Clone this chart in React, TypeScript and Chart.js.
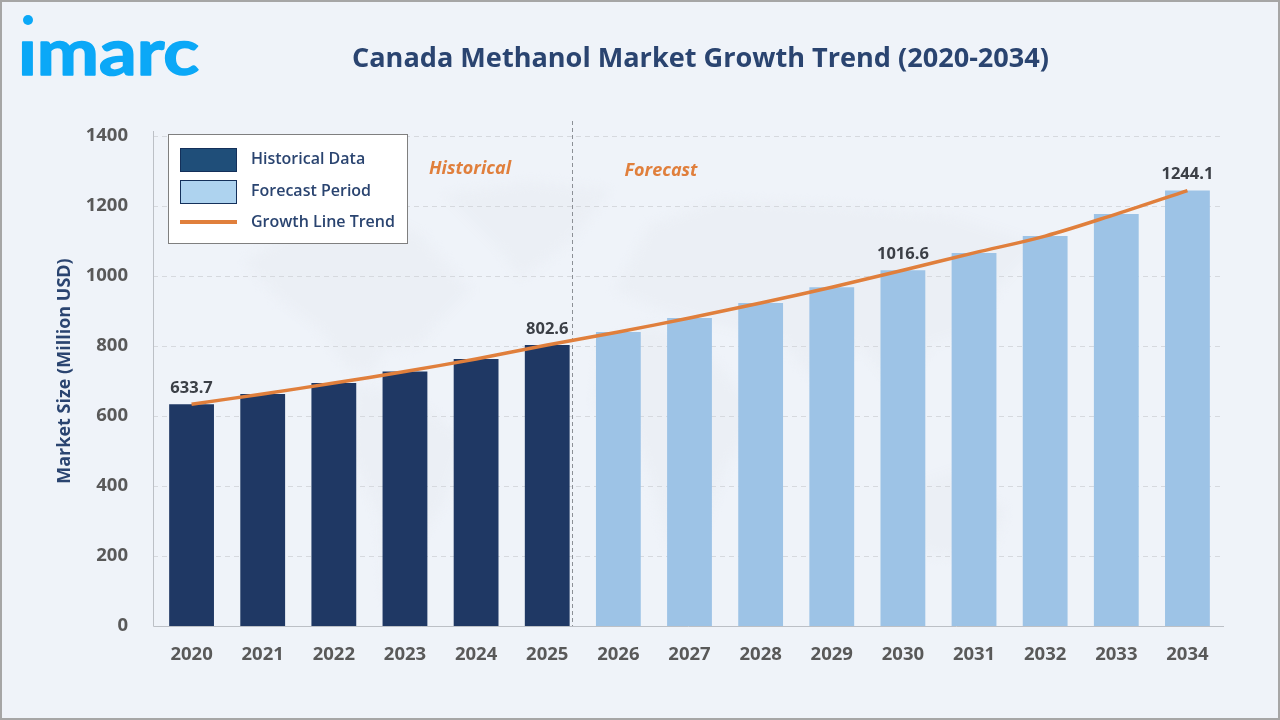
import React, { useEffect, useRef } from "react";
import { Chart, registerables } from "chart.js";

Chart.register(...registerables);

const years = ["2020","2021","2022","2023","2024","2025","2026","2027","2028","2029","2030","2031","2032","2033","2034"];
const historical = [633.7,663,694,727,763,802.6,null,null,null,null,null,null,null,null,null];
const forecast = [null,null,null,null,null,null,840,880,923,968,1016.6,1066,1114,1177,1244.1];
const trend = [633.7,663,694,727,763,802.6,840,880,923,968,1016.6,1066,1114,1177,1244.1];
const labelled = [0,5,10,14];
const titleText = "Canada Methanol Market Growth Trend (2020-2034)";
const yTitle = "Market Size (Million USD)";
const legendNames = ["Historical Data","Forecast Period","Growth Line Trend"];

const FONT = '"Open Sans", sans-serif';
const NAVY = "#2a4470";

// faint world map behind the plot (decoration only, not data)
const mapShapes: number[][][] = [
  [[245,262],[300,225],[380,215],[420,235],[470,290],[440,320],[420,345],[385,350],[370,375],[345,365],[320,330],[280,300]],
  [[445,195],[530,182],[610,190],[575,235],[545,262],[520,278],[500,250],[470,220]],
  [[355,385],[410,395],[465,440],[445,500],[420,540],[400,610],[385,600],[380,520],[350,450]],
  [[600,345],[650,325],[700,345],[735,385],[760,410],[725,470],[700,540],[670,550],[650,480],[635,430],[595,405]],
  [[615,290],[650,225],[720,200],[830,205],[950,215],[1040,245],[1000,285],[975,330],[930,345],[900,395],[860,345],[820,385],[780,340],[720,325],[660,310]],
  [[900,490],[960,470],[1005,510],[990,560],[930,555],[900,530]],
];

const backdrop = {
  id: "backdrop",
  beforeDraw(c: any) {
    const { ctx } = c;
    ctx.save();
    ctx.fillStyle = "#ebeff5";
    ctx.filter = "blur(5px)";
    for (const s of mapShapes) {
      ctx.beginPath();
      s.forEach((p, i) => (i ? ctx.lineTo(p[0], p[1]) : ctx.moveTo(p[0], p[1])));
      ctx.closePath();
      ctx.fill();
    }
    ctx.restore();
  },
};

const decor = {
  id: "decor",
  beforeDatasetsDraw(c: any) {
    const { ctx, scales: { x, y } } = c;
    ctx.save();
    ctx.strokeStyle = "#d6d9de";
    ctx.lineWidth = 1;
    ctx.setLineDash([5, 4]);
    for (const t of y.ticks) {
      if (t.value === 0) continue;
      const py = Math.round(y.getPixelForValue(t.value)) + 0.5;
      ctx.beginPath(); ctx.moveTo(153, py); ctx.lineTo(1224, py); ctx.stroke();
    }
    ctx.setLineDash([]);
    ctx.strokeStyle = "#bcc0c6";
    ctx.beginPath(); ctx.moveTo(153.5, 131); ctx.lineTo(153.5, y.bottom + 0.5); ctx.lineTo(1224, y.bottom + 0.5); ctx.stroke();
    const dx = Math.round(x.getPixelForValue(5)) + 25.5;
    ctx.strokeStyle = "#8c9096";
    ctx.setLineDash([4, 3]);
    ctx.beginPath(); ctx.moveTo(dx, 121); ctx.lineTo(dx, y.bottom); ctx.stroke();
    ctx.restore();
  },
  afterDraw(c: any) {
    const { ctx, scales: { x, y } } = c;
    ctx.save();
    ctx.textBaseline = "middle";
    ctx.textAlign = "center";
    ctx.fillStyle = NAVY;
    ctx.font = `700 27.1px ${FONT}`;
    ctx.fillText(titleText, 700.5, 59);

    // logo: text stretched wide, i-dot drawn apart from the stem
    ctx.save();
    ctx.fillStyle = "#0ba8f7";
    ctx.strokeStyle = "#0ba8f7";
    ctx.lineWidth = 1.5;
    ctx.lineJoin = "round";
    ctx.beginPath(); ctx.arc(28, 20, 5, 0, Math.PI * 2); ctx.fill();
    ctx.beginPath(); ctx.rect(0, 40, 260, 50); ctx.clip();
    ctx.translate(18, 75);
    ctx.scale(1.16, 1);
    ctx.font = `700 64px Lato, sans-serif`;
    ctx.textAlign = "left";
    ctx.textBaseline = "alphabetic";
    ctx.fillText("imarc", 0, 0);
    ctx.strokeText("imarc", 0, 0);
    ctx.restore();

    ctx.save();
    ctx.translate(65, 371);
    ctx.rotate(-Math.PI / 2);
    ctx.textAlign = "center";
    ctx.textBaseline = "middle";
    ctx.fillStyle = NAVY;
    ctx.font = `700 18px ${FONT}`;
    ctx.fillText(yTitle, 0, 0);
    ctx.restore();

    ctx.textAlign = "center";
    ctx.textBaseline = "middle";
    ctx.fillStyle = "#3b3f46";
    ctx.font = `700 16.5px ${FONT}`;
    for (const i of labelled) {
      ctx.fillText(String(trend[i]), x.getPixelForValue(i), y.getPixelForValue(trend[i]) - 16);
    }

    ctx.fillStyle = "#e07f3c";
    ctx.font = `italic 700 18px ${FONT}`;
    ctx.fillText("Historical", 470, 169);
    ctx.fillText("Forecast", 661, 171);

    ctx.fillStyle = "#ffffff";
    ctx.strokeStyle = "#7f7f7f";
    ctx.lineWidth = 1;
    ctx.fillRect(168.5, 134.5, 239, 109);
    ctx.strokeRect(168.5, 134.5, 239, 109);
    ctx.strokeStyle = "#14305a";
    ctx.fillStyle = "#1f4e79";
    ctx.fillRect(180.5, 148.5, 56, 23); ctx.strokeRect(180.5, 148.5, 56, 23);
    ctx.fillStyle = "#aed3ef";
    ctx.fillRect(180.5, 180.5, 56, 23); ctx.strokeRect(180.5, 180.5, 56, 23);
    ctx.fillStyle = "#e07f3c";
    ctx.fillRect(180, 220, 57, 4);
    ctx.fillStyle = NAVY;
    ctx.textAlign = "left";
    ctx.font = `600 16px ${FONT}`;
    ctx.fillText(legendNames[0], 251, 159);
    ctx.fillText(legendNames[1], 251, 191);
    ctx.fillText(legendNames[2], 251, 222);
    ctx.restore();
  },
};

export default function App() {
  const ref = useRef<HTMLCanvasElement>(null);
  useEffect(() => {
    document.body.style.margin = "0";
    const chart = new Chart(ref.current!, {
      type: "bar",
      data: {
        labels: years,
        datasets: [
          { type: "line", label: legendNames[2], data: trend, borderColor: "#e07f3c", borderWidth: 3.5, pointRadius: 0, tension: 0.35, order: 0 },
          { label: legendNames[0], data: historical, backgroundColor: "#1f3864", barPercentage: 0.63, categoryPercentage: 1, order: 1, stack: "s" },
          { label: legendNames[1], data: forecast, backgroundColor: "#9dc3e6", barPercentage: 0.63, categoryPercentage: 1, order: 1, stack: "s" },
        ] as any,
      },
      options: {
        animation: false,
        responsive: false,
        layout: { padding: { top: 136, right: 57, bottom: 0, left: 0 } },
        plugins: { legend: { display: false }, title: { display: false }, tooltip: { enabled: false } },
        scales: {
          x: {
            stacked: true,
            grid: { display: false },
            border: { display: false },
            ticks: { color: "#595959", font: { family: "Open Sans", size: 18.5, weight: "700" }, padding: 10, maxRotation: 0 },
            afterFit(s: any) { s.height = 94; },
          },
          y: {
            min: 0, max: 1400,
            grid: { display: false },
            border: { display: false },
            ticks: { stepSize: 200, color: "#595959", font: { family: "Open Sans", size: 18.5, weight: "700" }, padding: 20, callback: (v: any) => String(v) },
            afterFit(s: any) { s.width = 156; },
          },
        },
      } as any,
      plugins: [backdrop, decor],
    });
    return () => chart.destroy();
  }, []);
  return (
    <div style={{ position: "relative", width: 1280, height: 720, background: "#eff3f9", boxSizing: "border-box", overflow: "hidden" }}>
      <canvas ref={ref} width={1280} height={720} style={{ display: "block" }} />
      <div style={{ position: "absolute", inset: 0, border: "2px solid #a6a6a6", boxSizing: "border-box", pointerEvents: "none" }} />
    </div>
  );
}
